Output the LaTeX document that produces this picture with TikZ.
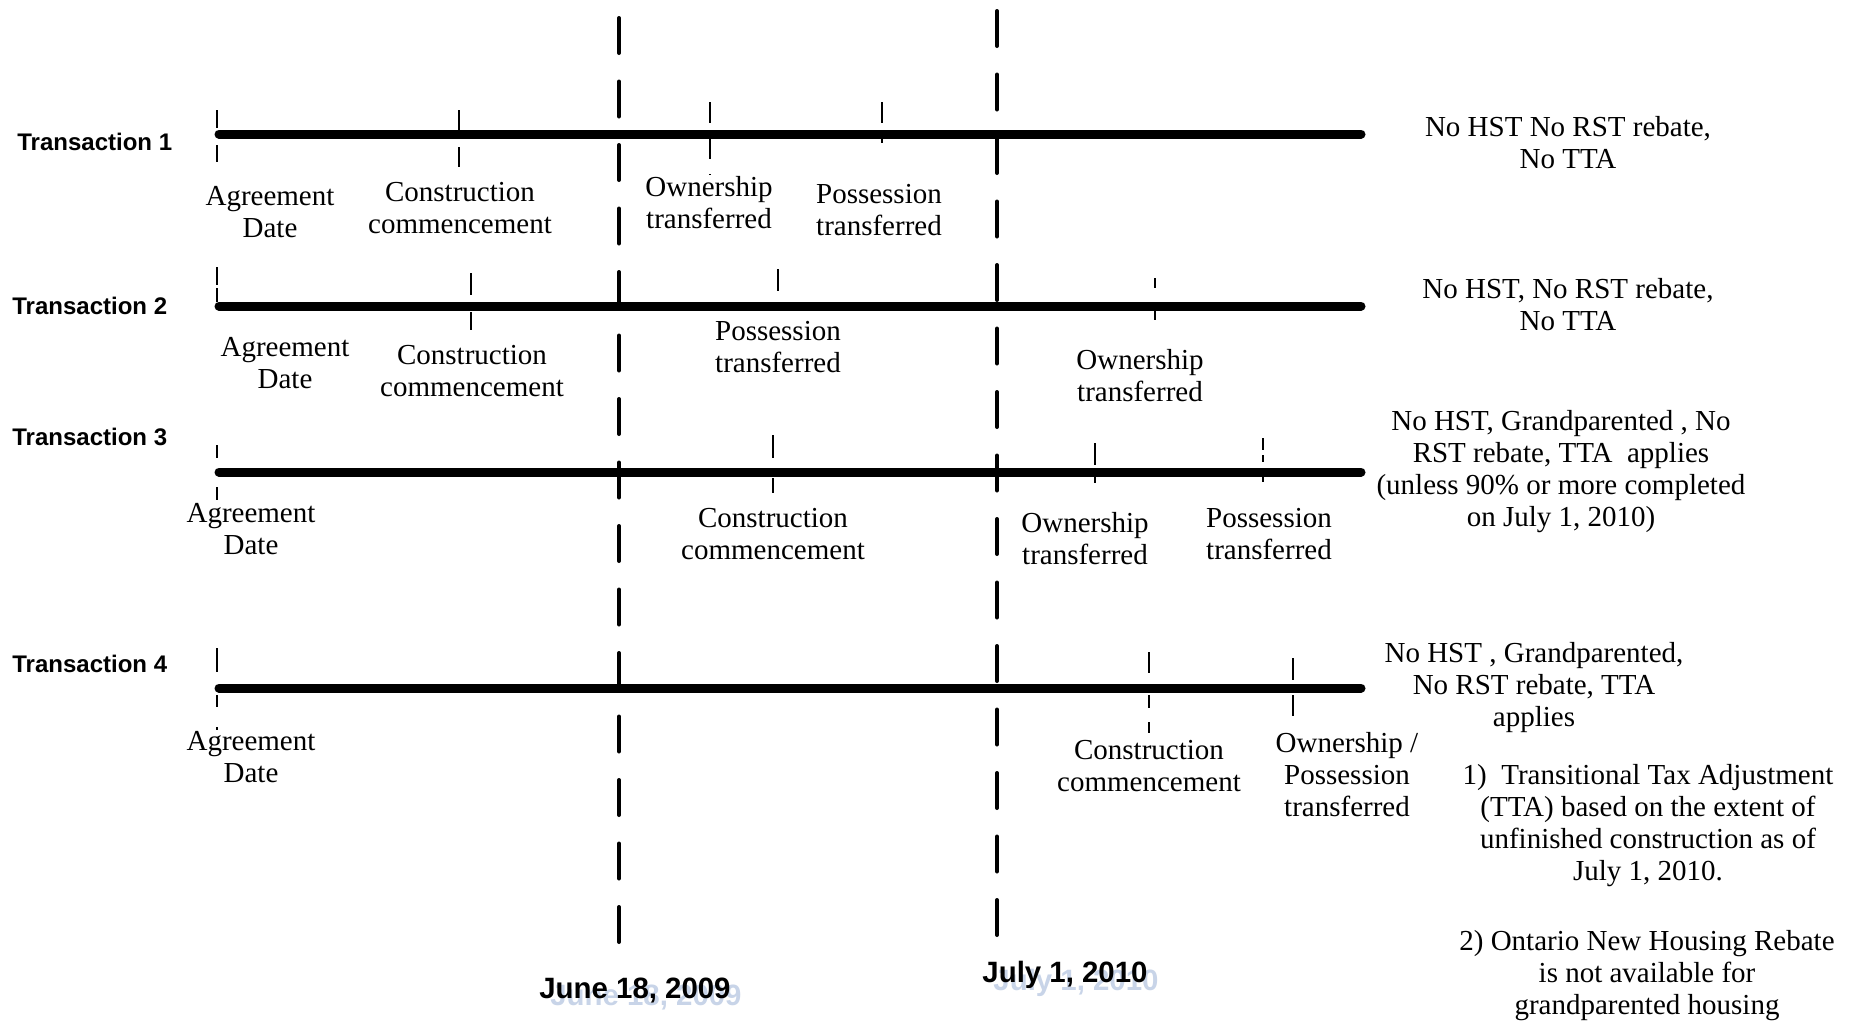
\documentclass[tikz,border=0pt]{standalone}
\usepackage{fontspec}
\setmainfont{Liberation Serif}
\newfontfamily\labsans{Liberation Sans}
\definecolor{ghostc}{RGB}{200,212,232}
\begin{document}
\begin{tikzpicture}[x=0.5pt,y=-0.5pt,
  tl/.style={line width=4.5pt,line cap=round},
  cut/.style={line width=2pt,line cap=round,dash pattern=on 17.5pt off 14.25pt},
  tk/.style={line width=1.35pt},
  lab/.style={align=center,font=\fontsize{14.5}{16}\selectfont,inner sep=0pt},
  tr/.style={anchor=west,font=\labsans\bfseries\fontsize{12}{14}\selectfont,inner sep=0pt},
  dt/.style={font=\labsans\bfseries\fontsize{14.7}{17}\selectfont,inner sep=0pt},
  ghost/.style={dt,text=ghostc}]
\useasboundingbox (0,0) rectangle (1860,1029);
\fill[white] (0,0) rectangle (1860,1029);

% timelines
\coordinate (t1s) at (219,134); \coordinate (t1e) at (1361,134);
\coordinate (t2s) at (219,306); \coordinate (t2e) at (1361,306);
\coordinate (t3s) at (219,472); \coordinate (t3e) at (1361,472);
\coordinate (t4s) at (219,688); \coordinate (t4e) at (1361,688);
\draw[tl] (t1s) -- (t1e);
\draw[tl] (t2s) -- (t2e);
\draw[tl] (t3s) -- (t3e);
\draw[tl] (t4s) -- (t4e);

% cut-off dates
\coordinate (d1t) at (619,18); \coordinate (d1b) at (619,942);
\coordinate (d2t) at (997,11); \coordinate (d2b) at (997,935);
\draw[cut] (d1t) -- (d1b);
\draw[cut] (d2t) -- (d2b);

% ticks
\draw[tk,dash pattern=on 9pt off 8.5pt] (217,110) -- (217,162);
\draw[tk,dash pattern=on 10pt off 8.5pt] (459,110) -- (459,167);
\draw[tk,dash pattern=on 10.5pt off 7.5pt] (710,102) -- (710,175);
\draw[tk,dash pattern=on 10.5pt off 6pt] (882,102) -- (882,143);

\draw[tk,dash pattern=on 9pt off 1.5pt] (217,267) -- (217,302);
\draw[tk,dash pattern=on 11pt off 8.5pt] (471,273) -- (471,330);
\draw[tk] (778,269) -- (778,291);
\draw[tk,dash pattern=on 5pt off 11pt] (1155,278) -- (1155,322);

\draw[tk,dash pattern=on 6.5pt off 14.5pt] (217,445) -- (217,500);
\draw[tk,dash pattern=on 11.5pt off 10pt] (773,435) -- (773,493);
\draw[tk,dash pattern=on 11pt off 4pt] (1095,443) -- (1095,483);
\draw[tk,dash pattern=on 6pt off 2.5pt on 3.5pt off 5pt on 5pt off 1pt] (1263,438) -- (1263,482);

\draw[tk,dash pattern=on 12pt off 11.5pt on 6pt off 10pt on 2pt off 1pt] (217,648) -- (217,730);
\draw[tk,dash pattern=on 10.5pt off 11pt on 6.5pt off 7pt on 5.5pt off 1pt] (1149,652) -- (1149,733);
\draw[tk,dash pattern=on 11pt off 7.5pt] (1293,658) -- (1293,716);

% transaction labels
\node[tr] (tr1) at (17,142) {Transaction 1};
\node[tr] (tr2) at (12,306) {Transaction 2};
\node[tr] (tr3) at (12,437) {Transaction 3};
\node[tr] (tr4) at (12,664) {Transaction 4};

% transaction 1
\node[lab] (a1) at (270,212) {Agreement\\Date};
\node[lab] (c1) at (460,208) {Construction\\commencement};
\node[lab] (o1) at (709,203) {Ownership\\transferred};
\node[lab] (p1) at (879,210) {Possession\\transferred};
\node[lab] (r1) at (1568,143) {No HST No RST rebate,\\No TTA};

% transaction 2
\node[lab] (a2) at (285,363) {Agreement\\Date};
\node[lab] (c2) at (472,371) {Construction\\commencement};
\node[lab] (p2) at (778,347) {Possession\\transferred};
\node[lab] (o2) at (1140,376) {Ownership\\transferred};
\node[lab] (r2) at (1568,305) {No HST, No RST rebate,\\No TTA};

% transaction 3
\node[lab] (a3) at (251,529) {Agreement\\Date};
\node[lab] (c3) at (773,534) {Construction\\commencement};
\node[lab] (o3) at (1085,539) {Ownership\\transferred};
\node[lab] (p3) at (1269,534) {Possession\\transferred};
\node[lab] (r3) at (1561,472) {No HST, Grandparented , No\\RST rebate, TTA\ \ applies\\(unless 90\% or more completed\\on July 1, 2010)};

% transaction 4
\node[lab] (a4) at (251,757) {Agreement\\Date};
\node[lab] (c4) at (1149,766) {Construction\\commencement};
\node[lab] (op4) at (1347,775) {Ownership /\\Possession\\transferred};
\node[lab] (r4) at (1534,688) {No HST , Grandparented,\\No RST rebate, TTA\\applies};

% notes
\node[lab] (n1) at (1648,826) {1)\ \ Transitional Tax Adjustment\\(TTA) based on the extent of\\unfinished construction as of\\July 1, 2010.};
\node[lab] (n2) at (1647,976) {2) Ontario New Housing Rebate\\is not available for\\grandparented housing};

% dates
\node[ghost] (g1) at (646,997) {June 18, 2009};
\node[dt] (dd1) at (635,990) {June 18, 2009};
\node[ghost] (g2) at (1076,983) {July 1, 2010};
\node[dt] (dd2) at (1065,975) {July 1, 2010};
\end{tikzpicture}
\end{document}
